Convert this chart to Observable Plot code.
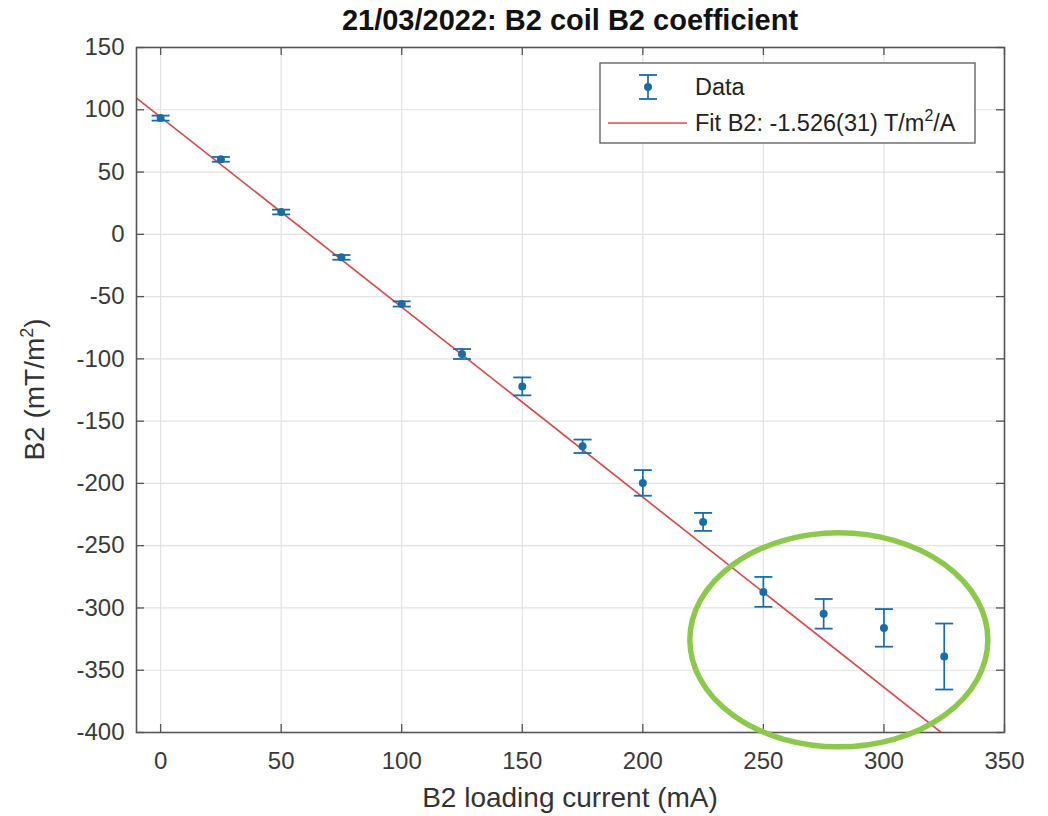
<!DOCTYPE html>
<html><head><meta charset="utf-8">
<script src="https://cdn.jsdelivr.net/npm/d3@7"></script>
<script src="https://cdn.jsdelivr.net/npm/@observablehq/plot@0.6"></script>
<style>
html,body{margin:0;padding:0;background:#fff;overflow:hidden;font-family:"Liberation Sans",Arial,sans-serif;}
#title{height:40px;line-height:40px;font-size:29px;font-weight:bold;color:#111;text-align:center;width:1140px;white-space:nowrap;}
#chart svg{display:block;}
</style></head><body>
<div id="title">21/03/2022: B2 coil B2 coefficient</div>
<div id="chart"></div>
<script>
// ---- data ----
const current = [0, 25, 50, 75, 100, 125, 150, 175, 200, 225, 250, 275, 300, 325];          // mA
const b2      = [93.3, 60.2, 17.9, -18.5, -55.9, -96.1, -122.1, -170.2, -199.6, -230.9, -287.1, -304.7, -316, -339]; // mT/m^2
const b2Err   = [2, 1.9, 1.9, 1.9, 2.1, 4, 7.2, 5.4, 10.3, 7.2, 12, 11.9, 15.1, 26.5];
const fitCurrent = [-10, 330];
const fitB2      = [109.4, -409.5];
const xTicks = [0, 50, 100, 150, 200, 250, 300, 350];
const yTicks = [-400, -350, -300, -250, -200, -150, -100, -50, 0, 50, 100, 150];
const legendLabels = ["Data", "Fit B2: -1.526(31) T/m"];
const highlight = {x: 281.5, y: -326};

const data = current.map((x, i) => ({x, y: b2[i], e: b2Err[i]}));
const fit = fitCurrent.map((x, i) => ({x, y: fitB2[i]}));

const W = 1048, H = 776;
const mL = 136, mR = 44, mT = 7, mB = 84;
const pw = W - mL - mR, ph = H - mT - mB;
const blue = "#1a6ca6", red = "#cf4f4f", axisCol = "#555", gridCol = "#e2e2e2";
const cap = {draw(ctx) { ctx.moveTo(-9, 0); ctx.lineTo(9, 0); }};

const plot = Plot.plot({
  width: W, height: H,
  marginLeft: mL, marginRight: mR, marginTop: mT, marginBottom: mB,
  style: {fontFamily: "Liberation Sans, Arial, sans-serif", background: "#fff", color: "#333", overflow: "visible"},
  x: {domain: [-10, 350]},
  y: {domain: [-400, 150]},
  marks: [
    Plot.gridX(xTicks, {stroke: gridCol, strokeOpacity: 1, strokeWidth: 1.2}),
    Plot.gridY(yTicks, {stroke: gridCol, strokeOpacity: 1, strokeWidth: 1.2}),
    Plot.axisX(xTicks, {tickSize: 0, tickPadding: 19, fontSize: 24, label: null, tickFormat: d => String(d), fill: "#3a3a3a"}),
    Plot.axisY(yTicks, {tickSize: 0, tickPadding: 12, fontSize: 24, label: null, tickFormat: d => String(d), fill: "#3a3a3a"}),
    Plot.tickX(xTicks, {x: d => d, insetTop: ph - 8, stroke: axisCol, strokeWidth: 1.3}),
    Plot.tickX(xTicks, {x: d => d, insetBottom: ph - 8, stroke: axisCol, strokeWidth: 1.3}),
    Plot.tickY(yTicks, {y: d => d, insetRight: pw - 8, stroke: axisCol, strokeWidth: 1.3}),
    Plot.tickY(yTicks, {y: d => d, insetLeft: pw - 8, stroke: axisCol, strokeWidth: 1.3}),
    Plot.line(fit, {x: "x", y: "y", stroke: red, strokeWidth: 1.7, clip: true}),
    Plot.ruleX(data, {x: "x", y1: d => d.y - d.e, y2: d => d.y + d.e, stroke: blue, strokeWidth: 1.7}),
    Plot.dot(data, {x: "x", y: d => d.y + d.e, symbol: cap, fill: "none", stroke: blue, strokeWidth: 1.8}),
    Plot.dot(data, {x: "x", y: d => d.y - d.e, symbol: cap, fill: "none", stroke: blue, strokeWidth: 1.8}),
    Plot.dot(data, {x: "x", y: "y", r: 4, fill: blue, stroke: "none"}),
    Plot.frame({stroke: axisCol, strokeWidth: 1.6})
  ]
});
document.getElementById("chart").append(plot);

const svg = d3.select(plot);
const sx = plot.scale("x"), sy = plot.scale("y");

// axis labels
const yl = svg.append("text")
  .attr("transform", `translate(44,${mT + ph / 2}) rotate(-90)`)
  .attr("text-anchor", "middle").attr("font-size", 28).attr("fill", "#333");
yl.append("tspan").text("B2 (mT/m");
yl.append("tspan").attr("dy", -11).attr("font-size", 18).text("2");
yl.append("tspan").attr("dy", 11).text(")");

svg.append("text")
  .attr("x", mL + pw / 2).attr("y", 767)
  .attr("text-anchor", "middle").attr("font-size", 28).attr("fill", "#333")
  .text("B2 loading current (mA)");

// legend
const lg = svg.append("g").attr("text-anchor", "start");
lg.append("rect").attr("x", 600).attr("y", 23).attr("width", 375).attr("height", 80)
  .attr("fill", "#fff").attr("stroke", "#666").attr("stroke-width", 1.4);
const ix = 648, r1 = 47, r2 = 83;
lg.append("line").attr("x1", ix).attr("x2", ix).attr("y1", r1 - 12).attr("y2", r1 + 12).attr("stroke", blue).attr("stroke-width", 1.7);
lg.append("line").attr("x1", ix - 9).attr("x2", ix + 9).attr("y1", r1 - 12).attr("y2", r1 - 12).attr("stroke", blue).attr("stroke-width", 1.8);
lg.append("line").attr("x1", ix - 9).attr("x2", ix + 9).attr("y1", r1 + 12).attr("y2", r1 + 12).attr("stroke", blue).attr("stroke-width", 1.8);
lg.append("circle").attr("cx", ix).attr("cy", r1).attr("r", 4).attr("fill", blue);
lg.append("line").attr("x1", 608).attr("x2", 687).attr("y1", r2).attr("y2", r2).attr("stroke", red).attr("stroke-width", 1.7);
lg.append("text").attr("x", 695).attr("y", r1 + 8).attr("text-anchor", "start").attr("font-size", 23.5).attr("fill", "#222").text(legendLabels[0]);
const ft = lg.append("text").attr("x", 695).attr("y", r2 + 8).attr("text-anchor", "start").attr("font-size", 23.5).attr("fill", "#222");
ft.append("tspan").text(legendLabels[1]);
ft.append("tspan").attr("dy", -10).attr("font-size", 16).text("2");
ft.append("tspan").attr("dy", 10).text("/A");

// green highlight ellipse
svg.append("ellipse")
  .attr("cx", sx.apply(highlight.x)).attr("cy", sy.apply(highlight.y))
  .attr("rx", 149).attr("ry", 107)
  .attr("fill", "none").attr("stroke", "#8cc84b").attr("stroke-width", 5.5);
</script>
</body></html>
